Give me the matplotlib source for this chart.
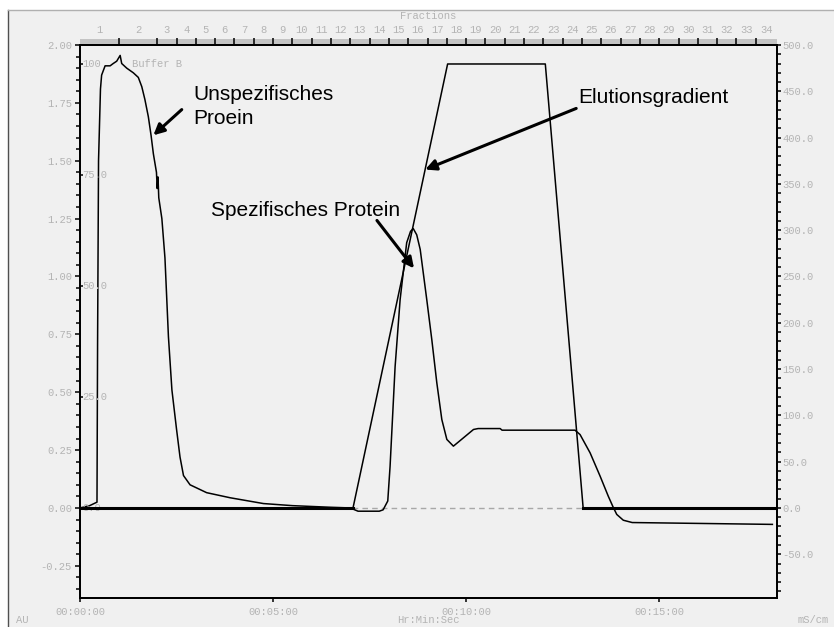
import numpy as np
import matplotlib
matplotlib.use('Agg')
import matplotlib.pyplot as plt
import matplotlib.transforms as mtransforms
from matplotlib.patches import Rectangle
from matplotlib.lines import Line2D
from matplotlib.ticker import MultipleLocator, FuncFormatter

# UV absorbance trace (time in min, AU)
uv_time = [0.0, 0.25, 0.44, 0.455, 0.48, 0.53, 0.56, 0.65, 0.78, 0.86, 0.95, 1.04, 1.08,
           1.21, 1.38, 1.51, 1.60, 1.68, 1.77, 1.84, 1.90, 1.94, 1.98, 2.00, 2.02, 2.04,
           2.12, 2.20, 2.29, 2.38, 2.50, 2.59, 2.68, 2.85, 3.28, 3.89, 4.75, 5.50, 6.48,
           7.00, 7.20, 7.75, 7.85, 7.97, 8.03, 8.16, 8.29, 8.46, 8.56, 8.63, 8.72, 8.81,
           8.98, 9.11, 9.24, 9.37, 9.50, 9.67, 9.93, 10.19, 10.31, 10.88, 10.93, 12.82,
           12.95, 13.21, 13.47, 13.68, 13.80, 13.90, 14.07, 14.30, 17.93]
uv_au = [0.0, 0.01, 0.025, 0.70, 1.50, 1.81, 1.87, 1.91, 1.91, 1.92, 1.93, 1.955, 1.92,
         1.90, 1.88, 1.86, 1.82, 1.765, 1.69, 1.61, 1.53, 1.49, 1.45, 1.38, 1.43, 1.34,
         1.25, 1.08, 0.74, 0.51, 0.34, 0.22, 0.14, 0.10, 0.066, 0.044, 0.019, 0.010, 0.003,
         0.0, -0.014, -0.014, -0.008, 0.03, 0.18, 0.61, 0.90, 1.146, 1.195, 1.207, 1.18, 1.117,
         0.90, 0.728, 0.541, 0.382, 0.296, 0.267, 0.303, 0.339, 0.343, 0.343, 0.336, 0.336,
         0.317, 0.238, 0.137, 0.051, 0.006, -0.028, -0.053, -0.063, -0.071]

# elution gradient (% buffer B)
grad_time = [0.0, 7.07, 9.52, 12.05, 13.03, 18.05]
grad_pct = [0, 0, 100, 100, 0, 0]

# fraction collector boundaries (min)
frac_edges = [1.0, 2.0, 2.5, 3.0, 3.5, 4.0, 4.5, 5.0, 5.5, 6.0, 6.5, 7.0, 7.5, 8.0, 8.5,
              9.0, 9.5, 10.0, 10.5, 11.0, 11.5, 12.0, 12.5, 13.0, 13.5, 14.0, 14.5, 15.0,
              15.5, 16.0, 16.5, 17.0, 17.5]
frac_labels = [str(i) for i in range(1, 35)]

time_ticks = [0, 5, 10, 15]
pct_ticks = [100, 75, 50, 25, 0]
pct_tick_labels = ['100', '75.0', '50.0', '25.0', '0.0']

T_MAX = 18.05
AU_MIN, AU_MAX = -0.389, 2.0
AU_PER_100B = 1.918      # where 100 % B sits on the AU scale
COND_PER_AU = 250.0

W, H = 834, 627
GRAY = '#b4b4b4'
MONO = 'Liberation Mono'
SANS = 'Liberation Sans'

fig = plt.figure(figsize=(W / 100, H / 100), dpi=100, facecolor='white')

# window panel behind everything
fig.add_artist(Rectangle((8 / W, 0), 1, 1 - 10 / H, transform=fig.transFigure,
                         facecolor='#f0f0f0', edgecolor='none', zorder=-2))
fig.add_artist(Line2D([8 / W, 8 / W], [0, 1 - 10 / H], color='#505050', lw=1, zorder=-1))
fig.add_artist(Line2D([8 / W, 1], [1 - 10 / H, 1 - 10 / H], color='#b0b0b0', lw=1, zorder=-1))
# grey band above the fraction axis
fig.add_artist(Rectangle((80 / W, 1 - 44 / H), 697 / W, 5 / H, transform=fig.transFigure,
                         facecolor='#c4c4c4', edgecolor='none', zorder=-1))

ax = fig.add_axes([80 / W, 1 - 598 / H, 697 / W, 553 / H])
ax.set_facecolor('#f0f0f0')
ax.set_xlim(0, T_MAX)
ax.set_ylim(AU_MIN, AU_MAX)
for s in ax.spines.values():
    s.set_linewidth(1.2)

ax.axhline(0, color='#a8a8a8', lw=1, ls=(0, (4, 3)), zorder=1)
ax.plot(uv_time, uv_au, color='black', lw=1.1, zorder=3)

ax.yaxis.set_major_locator(MultipleLocator(0.25))
ax.yaxis.set_minor_locator(MultipleLocator(0.05))
ax.yaxis.set_major_formatter(FuncFormatter(lambda v, p: '%.2f' % v))
ax.tick_params(axis='y', which='major', direction='out', length=3.8, width=1.1,
               pad=2, labelsize=7.6, labelcolor=GRAY)
ax.tick_params(axis='y', which='minor', direction='out', length=2.8, width=1.1)
for lbl in ax.get_yticklabels():
    lbl.set_fontfamily(MONO)

ax.set_xticks(time_ticks)
ax.set_xticklabels(['00:%02d:00' % m for m in time_ticks], fontfamily=MONO)
ax.tick_params(axis='x', direction='out', length=3, width=1.1, pad=3.2,
               labelsize=7.6, labelcolor=GRAY)

# conductivity scale on the right
ax2 = ax.twinx()
ax2.set_ylim(AU_MIN * COND_PER_AU, AU_MAX * COND_PER_AU)
ax2.yaxis.set_major_locator(MultipleLocator(50))
ax2.yaxis.set_minor_locator(MultipleLocator(10))
ax2.yaxis.set_major_formatter(FuncFormatter(lambda v, p: '%.1f' % v))
ax2.tick_params(axis='y', which='major', direction='out', length=3, width=1.1,
                pad=1, labelsize=7.6, labelcolor=GRAY)
ax2.tick_params(axis='y', which='minor', direction='out', length=3, width=1.1)
for lbl in ax2.get_yticklabels():
    lbl.set_fontfamily(MONO)
for s in ax2.spines.values():
    s.set_linewidth(1.2)

# % buffer B, drawn against its own inner scale
ax3 = ax.twinx()
ax3.set_ylim(AU_MIN / AU_PER_100B * 100, AU_MAX / AU_PER_100B * 100)
for s in ax3.spines.values():
    s.set_visible(False)
ax3.yaxis.tick_left()
ax3.set_yticks(pct_ticks)
ax3.tick_params(axis='y', direction='in', length=2, width=1.1, labelleft=False)
gp = np.array(grad_pct, dtype=float)
ax3.plot(grad_time, gp, color='black', lw=1.1, zorder=3)
ax3.plot(grad_time, np.where(gp == 0, gp, np.nan), color='black', lw=2.2, zorder=3)
lt = mtransforms.blended_transform_factory(ax3.transAxes, ax3.transData)
for v, s in zip(pct_ticks, pct_tick_labels):
    ax3.text(0.003, v, s, transform=lt, ha='left', va='center', fontsize=7.6,
             color=GRAY, fontfamily=MONO, zorder=1)
ax3.text(0.074, 100, 'Buffer B', transform=lt, ha='left', va='center', fontsize=7.6,
         color=GRAY, fontfamily=MONO, zorder=1)

# fractions along the top
axt = ax.twiny()
axt.set_xlim(0, T_MAX)
axt.set_xticks(frac_edges)
axt.set_xticklabels([])
edges = [0.0] + frac_edges + [T_MAX]
mids = [(a + b) / 2 for a, b in zip(edges[:-1], edges[1:])]
axt.set_xticks(mids, minor=True)
axt.set_xticklabels(frac_labels, minor=True, fontfamily=MONO)
axt.tick_params(axis='x', which='major', direction='out', length=4.8, width=1.1)
axt.tick_params(axis='x', which='minor', length=0, pad=7.5, labelsize=7.6, labelcolor=GRAY)
for s in axt.spines.values():
    s.set_linewidth(1.2)

# annotations
ann = dict(fontsize=15, fontfamily=SANS, color='black', zorder=5)
arr = dict(arrowstyle='-|>', color='black', lw=2.2, mutation_scale=16, shrinkA=0, shrinkB=0)
ax.text(2.93, 1.762, 'Unspezifisches', **ann)
ax.text(2.93, 1.660, 'Proein', **ann)
ax.annotate('', xy=(1.90, 1.61), xytext=(2.635, 1.721), arrowprops=arr)

ax.text(12.90, 1.748, 'Elutionsgradient', **ann)
ax.annotate('', xy=(8.94, 1.462), xytext=(12.85, 1.726), arrowprops=arr)

ax.text(3.39, 1.262, 'Spezifisches Protein', **ann)
ax.annotate('', xy=(8.65, 1.035), xytext=(7.69, 1.242), arrowprops=arr)

# frame captions
cap = dict(fontsize=7.6, color=GRAY, fontfamily=MONO)
fig.text(428 / W, 1 - 16 / H, 'Fractions', ha='center', va='center', **cap)
fig.text(16 / W, 1 - 615 / H, 'AU', ha='left', va='top', **cap)
fig.text(428 / W, 1 - 615 / H, 'Hr:Min:Sec', ha='center', va='top', **cap)
fig.text(798 / W, 1 - 615 / H, 'mS/cm', ha='left', va='top', **cap)

fig.savefig('out.png', dpi=100, facecolor='white')
